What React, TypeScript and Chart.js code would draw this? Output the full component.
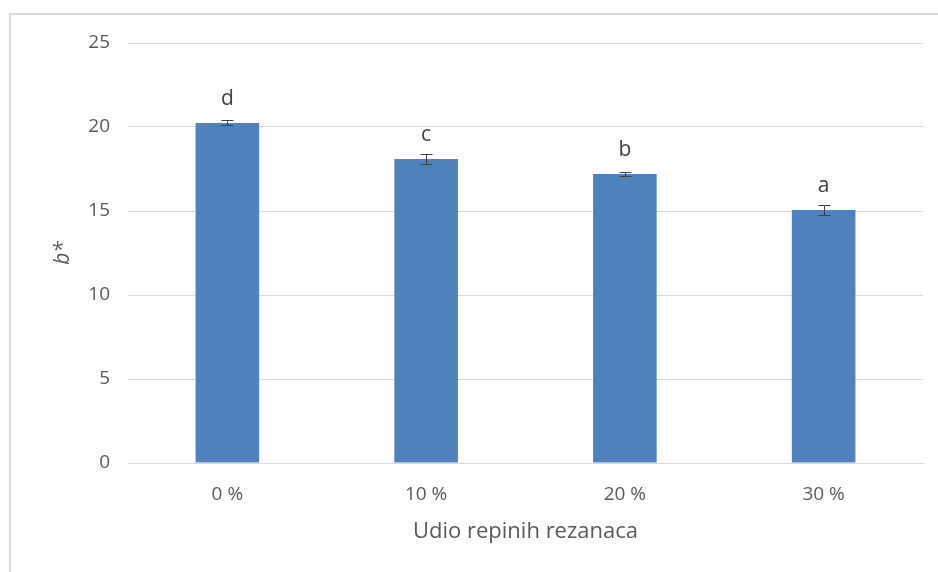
import React, { useEffect, useRef } from "react";
import { Chart, registerables } from "chart.js";

Chart.register(...registerables);

const categories = ["0 %", "10 %", "20 %", "30 %"];
const values = [20.24, 18.1, 17.2, 15.06];
const errors = [0.15, 0.3, 0.1, 0.3];
const letters = ["d", "c", "b", "a"];
const yTicks = [0, 5, 10, 15, 20, 25];

const FONT = "'Open Sans', 'Liberation Sans', sans-serif";
const TEXT = "#595959";

const extrasPlugin = {
  id: "extras",
  beforeDraw(chart: any) {
    const ctx = chart.ctx;
    ctx.save();
    ctx.strokeStyle = "#d9d9d9";
    ctx.lineWidth = 2;
    ctx.beginPath();
    ctx.moveTo(10, 572);
    ctx.lineTo(10, 14);
    ctx.lineTo(938, 14);
    ctx.stroke();
    ctx.restore();
  },
  afterDatasetsDraw(chart: any) {
    const ctx = chart.ctx;
    const x = chart.scales.x;
    const y = chart.scales.y;
    ctx.save();
    ctx.strokeStyle = "#404040";
    ctx.lineWidth = 1;
    values.forEach((v, i) => {
      const cx = Math.round(x.getPixelForValue(i)) + 0.5;
      const top = Math.round(y.getPixelForValue(v + errors[i])) + 0.5;
      const bot = Math.round(y.getPixelForValue(v - errors[i])) + 0.5;
      ctx.beginPath();
      ctx.moveTo(cx, top);
      ctx.lineTo(cx, bot);
      ctx.moveTo(cx - 6, top);
      ctx.lineTo(cx + 6, top);
      ctx.moveTo(cx - 6, bot);
      ctx.lineTo(cx + 6, bot);
      ctx.stroke();
    });
    ctx.fillStyle = "#404040";
    ctx.font = `21px ${FONT}`;
    ctx.textAlign = "center";
    ctx.textBaseline = "middle";
    values.forEach((v, i) => {
      const cx = x.getPixelForValue(i);
      const ty = y.getPixelForValue(v) - 24;
      ctx.fillText(letters[i], cx, ty);
    });
    ctx.restore();
  },
};

export default function App() {
  const ref = useRef<HTMLCanvasElement>(null);
  useEffect(() => {
    document.body.style.margin = "0";
    const chart = new Chart(ref.current!, {
      type: "bar",
      data: {
        labels: categories,
        datasets: [
          {
            data: values,
            backgroundColor: "#4f81bd",
            borderWidth: 0,
            barPercentage: 0.32,
            categoryPercentage: 1,
          },
        ],
      },
      options: {
        animation: false,
        responsive: false,
        layout: { padding: { left: 0, right: 15, top: 43, bottom: 0 } },
        plugins: { legend: { display: false }, tooltip: { enabled: false } },
        scales: {
          x: {
            grid: { display: false, drawTicks: false },
            border: { color: "#d9d9d9", width: 1 },
            ticks: { color: TEXT, font: { family: FONT, size: 19 }, padding: 20 },
            title: {
              display: true,
              text: "Udio repinih rezanaca",
              color: TEXT,
              font: { family: FONT, size: 22 },
              padding: { top: 0, bottom: 27 },
            },
            afterFit(scale: any) {
              scale.height = 109;
            },
          },
          y: {
            min: 0,
            max: 25,
            afterBuildTicks(scale: any) {
              scale.ticks = yTicks.map((v) => ({ value: v }));
            },
            grid: { color: "#d9d9d9", drawTicks: false },
            border: { display: false },
            ticks: { color: TEXT, font: { family: FONT, size: 19 }, padding: 18 },
            title: {
              display: true,
              text: "b*",
              color: TEXT,
              font: { family: FONT, size: 21, style: "italic" },
              padding: { top: 50, bottom: 0 },
            },
            afterFit(scale: any) {
              scale.width = 128;
            },
          },
        },
      },
      plugins: [extrasPlugin],
    });
    return () => chart.destroy();
  }, []);
  return (
    <div style={{ position: "relative", width: 938, height: 572 }}>
      <canvas ref={ref} width={938} height={572} style={{ display: "block" }} />
    </div>
  );
}
